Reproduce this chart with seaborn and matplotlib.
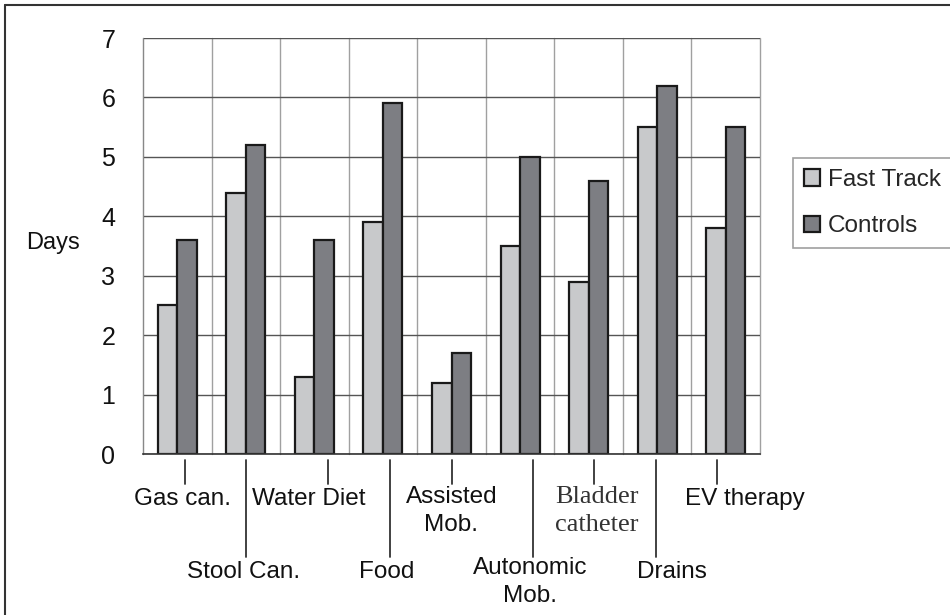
import pandas as pd
import numpy as np
import matplotlib
matplotlib.use("Agg")
import matplotlib.pyplot as plt
import matplotlib.transforms as mtransforms
from matplotlib.lines import Line2D
import seaborn as sns

# data
tasks = ["Gas can.", "Stool Can.", "Water Diet", "Food", "Assisted\nMob.",
         "Autonomic\nMob.", "Bladder\ncatheter", "Drains", "EV therapy"]
fast_track = [2.5, 4.4, 1.3, 3.9, 1.2, 3.5, 2.9, 5.5, 3.8]
controls = [3.6, 5.2, 3.6, 5.9, 1.7, 5.0, 4.6, 6.2, 5.5]
groups = ["Fast Track", "Controls"]

df = pd.DataFrame({
    "task": tasks * 2,
    "days": fast_track + controls,
    "group": [groups[0]] * len(tasks) + [groups[1]] * len(tasks),
})

# label layout: (label x offset, leader x offset, lower row?)
label_dx = [0.08, -0.04, -0.08, 0.05, 0.0, 0.15, 0.12, 0.22, 0.28]
line_dx = [0.11, 0.0, 0.2, 0.1, 0.0, 0.19, 0.08, -0.01, -0.13]
lower = [False, True, False, True, False, True, False, True, False]

sns.set_style("white")
plt.rcParams["font.family"] = ["Liberation Sans", "DejaVu Sans"]

W, H = 950, 615
fig = plt.figure(figsize=(W / 100, H / 100), dpi=100)
ax = fig.add_axes([143 / W, 1 - 454 / H, (760 - 143) / W, (454 - 38) / H])

sns.barplot(data=df, x="task", y="days", hue="group", order=tasks,
            hue_order=groups, palette=["#c8c9cb", "#7d7e83"],
            edgecolor="#1a1a1a", linewidth=1.6, width=0.57, gap=0,
            saturation=1, ax=ax)

handles, labels = ax.get_legend_handles_labels()
if ax.get_legend() is not None:
    ax.get_legend().remove()

ax.set_xlim(-0.5, len(tasks) - 0.5)
ax.set_ylim(0, 7)
ax.set_yticks(range(8))
ax.set_xlabel("")
ax.set_ylabel("")
ax.set_xticks([])
ax.set_xticks(np.arange(-0.5, len(tasks)), minor=True)
ax.tick_params(axis="x", which="minor", length=11, color="#999999", width=1)
ax.tick_params(axis="y", length=13, color="#888888", width=1, pad=7,
               labelsize=18, labelcolor="#111111")

ax.set_axisbelow(True)
ax.yaxis.grid(True, color="#555555", linewidth=1)
ax.xaxis.grid(True, which="minor", color="#a0a0a0", linewidth=1)
for t in ax.xaxis.get_minor_ticks():
    t.gridline.set_clip_on(False)

for s in ["top", "right"]:
    ax.spines[s].set_visible(False)
ax.spines["left"].set_color("#888888")
ax.spines["bottom"].set_color("#333333")
ax.spines["bottom"].set_linewidth(1.2)

# category labels with leader lines
blend = mtransforms.blended_transform_factory(ax.transData, fig.transFigure)
def fy(px):
    return 1 - px / H

for i, name in enumerate(tasks):
    y_end = 557 if lower[i] else 484
    ax.add_line(Line2D([i + line_dx[i]] * 2, [fy(460), fy(y_end)],
                       transform=blend, color="#333333", lw=1.3, clip_on=False))
    if "\n" in name:
        yc = 582 if lower[i] else 511
    else:
        yc = 572 if lower[i] else 499
    kw = dict(fontsize=17.5, color="#111111")
    if name.startswith("Bladder"):
        kw = dict(fontsize=19, color="#333333",
                  family=["Liberation Serif", "DejaVu Serif"])
    ax.text(i + label_dx[i], fy(yc), name, transform=blend, ha="center",
            va="center", linespacing=1.3, clip_on=False, **kw)

fig.text(53 / W, fy(243), "Days", ha="center", va="center", fontsize=17,
         color="#111111")

leg = fig.legend(handles, labels, loc="upper left",
                 bbox_to_anchor=(793 / W, fy(158)), frameon=True,
                 fancybox=False, fontsize=17.5, handlelength=0.65,
                 handleheight=0.65, handletextpad=0.35, labelspacing=1.0,
                 borderpad=0.45, borderaxespad=0)
leg.get_frame().set_edgecolor("#888888")
leg.get_frame().set_linewidth(1.2)

# outer frame of the picture
fig.add_artist(Line2D([5 / W, 1], [fy(5), fy(5)], transform=fig.transFigure,
                      color="#333333", lw=1.5))
fig.add_artist(Line2D([5 / W, 5 / W], [fy(5), 0], transform=fig.transFigure,
                      color="#333333", lw=1.5))

fig.savefig("out.png", dpi=100)
